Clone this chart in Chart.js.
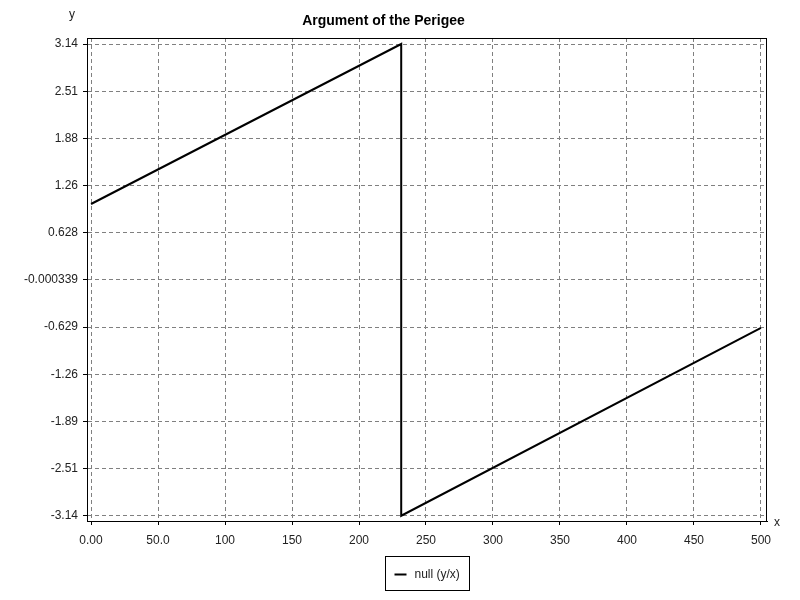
<!DOCTYPE html>
<html>
<head>
<meta charset="utf-8">
<script src="https://cdn.jsdelivr.net/npm/chart.js@4/dist/chart.umd.min.js"></script>
<style>
  html, body { margin: 0; padding: 0; background: #fff; }
  #wrap { width: 800px; height: 600px; }
</style>
</head>
<body>
<div id="wrap"><canvas id="perigee"></canvas></div>
<script>
"use strict";

// data
var xValues = [0, 231.5, 231.5, 500];
var yValues = [1.01, 3.14, -3.14, -0.64];
var xTicks = [0, 50, 100, 150, 200, 250, 300, 350, 400, 450, 500];
var xTickLabels = ['0.00', '50.0', '100', '150', '200', '250', '300', '350', '400', '450', '500'];
var yTicks = [-3.14, -2.51, -1.89, -1.26, -0.629, -0.000339, 0.628, 1.26, 1.88, 2.51, 3.14];
var yTickLabels = ['-3.14', '-2.51', '-1.89', '-1.26', '-0.629', '-0.000339', '0.628', '1.26', '1.88', '2.51', '3.14'];
var seriesName = 'null (y/x)';

var FONT = '"Liberation Sans", Arial, sans-serif';

var points = xValues.map(function (x, i) {
    return { x: x, y: yValues[i] };
});

/**
 * Frame, axis names and the boxed legend below the plot
 */
var extras = {
    id: 'extras',
    afterDraw: function (chart) {
        var ctx = chart.ctx;
        var a = chart.chartArea;
        ctx.save();
        ctx.strokeStyle = '#000';
        ctx.lineWidth = 1;
        ctx.strokeRect(a.left + 0.5, a.top + 0.5, a.right - a.left - 1, a.bottom - a.top);

        ctx.fillStyle = '#222';
        ctx.font = '12px ' + FONT;
        ctx.textAlign = 'center';
        ctx.textBaseline = 'middle';
        ctx.fillText('y', 72, 15);
        ctx.fillText('x', 777, 523);

        // legend
        var ds = chart.data.datasets[0];
        var cx = (a.left + a.right) / 2;
        var bw = 84, bh = 34;
        var bx = Math.round(cx - bw / 2) + 0.5, by = 556.5;
        ctx.strokeStyle = '#000';
        ctx.strokeRect(bx, by, bw, bh);
        ctx.strokeStyle = ds.borderColor;
        ctx.lineWidth = 2;
        ctx.beginPath();
        ctx.moveTo(bx + 9, by + 18);
        ctx.lineTo(bx + 21, by + 18);
        ctx.stroke();
        ctx.fillStyle = '#222';
        ctx.textAlign = 'left';
        ctx.fillText(ds.label, bx + 29, by + 18);
        ctx.restore();
    }
};

new Chart(document.getElementById('perigee'), {
    type: 'line',
    data: {
        datasets: [{
            label: seriesName,
            data: points,
            borderColor: '#000',
            borderWidth: 2,
            pointRadius: 0,
            tension: 0,
            fill: false
        }]
    },
    options: {
        responsive: true,
        maintainAspectRatio: false,
        animation: false,
        layout: { padding: { left: 0, right: 33, top: 0, bottom: 0 } },
        plugins: {
            legend: { display: false },
            tooltip: { enabled: false },
            title: {
                display: true,
                text: 'Argument of the Perigee',
                color: '#000',
                font: { family: FONT, size: 14, weight: 'bold' },
                padding: { top: 13, bottom: 8.2 }
            }
        },
        scales: {
            x: {
                type: 'linear',
                min: -3,
                max: 504.5,
                afterBuildTicks: function (scale) {
                    scale.ticks = xTicks.map(function (v) { return { value: v }; });
                },
                afterFit: function (scale) { scale.height = 79; },
                ticks: {
                    color: '#222',
                    font: { family: FONT, size: 12 },
                    padding: 8,
                    maxRotation: 0,
                    callback: function (v, i) { return xTickLabels[i]; }
                },
                grid: { color: '#808080', tickColor: '#000', tickLength: 4, lineWidth: 1 },
                border: { display: true, color: '#000', dash: [4, 3] }
            },
            y: {
                type: 'linear',
                min: -3.21,
                max: 3.22,
                afterBuildTicks: function (scale) {
                    scale.ticks = yTicks.map(function (v) { return { value: v }; });
                },
                afterFit: function (scale) { scale.width = 87; },
                ticks: {
                    color: '#222',
                    font: { family: FONT, size: 12 },
                    padding: 5,
                    callback: function (v, i) { return yTickLabels[i]; }
                },
                grid: { color: '#808080', tickColor: '#000', tickLength: 4, lineWidth: 1 },
                border: { display: true, color: '#000', dash: [4, 3] }
            }
        }
    },
    plugins: [extras]
});
</script>
</body>
</html>
